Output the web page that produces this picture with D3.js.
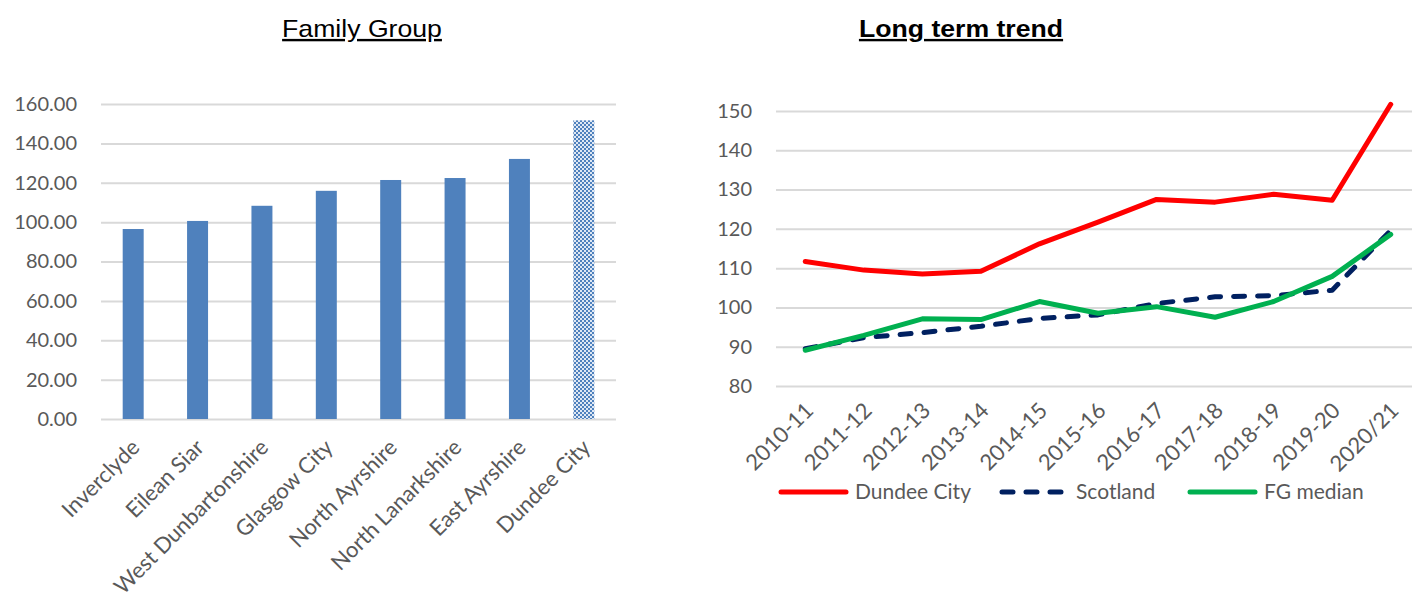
<!DOCTYPE html>
<html>
<head>
<meta charset="utf-8">
<script src="https://cdn.jsdelivr.net/npm/d3@7"></script>
<style>
  html, body { margin: 0; padding: 0; background: #fff; }
  svg { display: block; }
  .tick text { font-family: Lato, "Open Sans", sans-serif; font-size: 20px; fill: #595959; }
  .xaxis .tick text { font-size: 22px; }
  .title { font-family: "Liberation Sans", Arial, sans-serif; font-size: 24px; fill: #000; text-decoration: underline; }
  .legend text { font-family: Lato, "Open Sans", sans-serif; font-size: 21px; fill: #595959; }
</style>
</head>
<body>
<script>
// Family group comparison (2020/21)
const councils = ["Inverclyde", "Eilean Siar", "West Dunbartonshire", "Glasgow City",
                  "North Ayrshire", "North Lanarkshire", "East Ayrshire", "Dundee City"];
const councilValues = [96.5, 100.6, 108.3, 115.9, 121.4, 122.4, 132.1, 151.7];
const highlightCouncil = "Dundee City";
const barTicks = [0, 20, 40, 60, 80, 100, 120, 140, 160];

// Long term trend
const years = ["2010-11", "2011-12", "2012-13", "2013-14", "2014-15", "2015-16",
               "2016-17", "2017-18", "2018-19", "2019-20", "2020/21"];
const dundeeCity = [111.7, 109.5, 108.5, 109.2, 116.2, 121.7, 127.5, 126.8, 128.8, 127.3, 151.7];
const scotland   = [89.5, 92.3, 93.6, 95.2, 97.2, 98.1, 101.0, 102.7, 103.0, 104.4, 119.6];
const fgMedian   = [89.1, 92.9, 97.1, 96.9, 101.5, 98.5, 100.2, 97.5, 101.5, 107.9, 118.6];
const trendTicks = [80, 90, 100, 110, 120, 130, 140, 150];
const seriesNames = ["Dundee City", "Scotland", "FG median"];

const W = 1412, H = 593;
const svg = d3.select("body").append("svg").attr("width", W).attr("height", H);

// checkered fill for the highlighted council
const defs = svg.append("defs");
const pat = defs.append("pattern").attr("id", "checker")
  .attr("patternUnits", "userSpaceOnUse").attr("width", 4).attr("height", 4);
pat.append("rect").attr("width", 4).attr("height", 4).attr("fill", "#dfe8f4");
pat.append("rect").attr("x", 0).attr("y", 0).attr("width", 2).attr("height", 2).attr("fill", "#4f81bd");
pat.append("rect").attr("x", 2).attr("y", 2).attr("width", 2).attr("height", 2).attr("fill", "#4f81bd");

function styleGrid(g) {
  g.select(".domain").remove();
  g.selectAll(".tick line").attr("stroke", "#d9d9d9").attr("stroke-width", 2);
  g.selectAll(".tick text").attr("x", -24);
}

function rotateLabels(g, dx, dy) {
  g.select(".domain").remove();
  g.selectAll(".tick text")
    .attr("text-anchor", "end")
    .attr("transform", `translate(${dx},${dy}) rotate(-45)`)
    .attr("dy", "0.7em").attr("y", 0).attr("x", 0);
}

// ---------- Family Group bar chart ----------
const bx = d3.scaleBand().domain(councils).range([101, 616]).paddingInner(0.674).paddingOuter(0.337);
const by = d3.scaleLinear().domain([0, 160]).range([419, 104]);

svg.append("text").attr("class", "title")
  .attr("transform", "translate(362,37) scale(1.11,1)")
  .attr("text-anchor", "middle").text("Family Group");

svg.append("g").attr("transform", "translate(101,0)")
  .call(d3.axisLeft(by).tickValues(barTicks).tickFormat(d3.format(".2f")).tickSize(-515))
  .call(styleGrid);

svg.append("g").selectAll("rect").data(councils).join("rect")
  .attr("x", d => bx(d))
  .attr("width", bx.bandwidth())
  .attr("y", (d, i) => by(councilValues[i]))
  .attr("height", (d, i) => by(0) - by(councilValues[i]))
  .attr("fill", d => d === highlightCouncil ? "url(#checker)" : "#4f81bd");

svg.append("g").attr("class", "xaxis").attr("transform", "translate(0,419)")
  .call(d3.axisBottom(bx).tickSize(0))
  .call(rotateLabels, -3, 19);

// ---------- Long term trend line chart ----------
const lx = d3.scalePoint().domain(years).range([776, 1420]).padding(0.5);
const ly = d3.scaleLinear().domain([80, 150]).range([386, 111]);

svg.append("text").attr("class", "title")
  .attr("transform", "translate(961,37) scale(1.11,1)")
  .attr("text-anchor", "middle").style("font-weight", "bold").text("Long term trend");

svg.append("g").attr("transform", "translate(776,0)")
  .call(d3.axisLeft(ly).tickValues(trendTicks).tickSize(-644))
  .call(styleGrid);

svg.append("g").attr("class", "xaxis").attr("transform", "translate(0,386)")
  .call(d3.axisBottom(lx).tickSize(0))
  .call(rotateLabels, -2, 15);

const series = [
  { name: seriesNames[0], values: dundeeCity, color: "#ff0000", dash: null },
  { name: seriesNames[1], values: scotland,   color: "#002060", dash: "11,13" },
  { name: seriesNames[2], values: fgMedian,   color: "#00b050", dash: null }
];
const line = d3.line().x((d, i) => lx(years[i])).y(d => ly(d));

// draw Scotland first so the FG median sits on top of it, Dundee last
[series[1], series[2], series[0]].forEach(s => {
  svg.append("path").datum(s.values)
    .attr("d", line)
    .attr("fill", "none")
    .attr("stroke", s.color)
    .attr("stroke-width", 5)
    .attr("stroke-linejoin", "round")
    .attr("stroke-linecap", "round")
    .attr("stroke-dasharray", s.dash);
});

// legend
const legendX = [781, 1002, 1190];
const legend = svg.append("g").attr("class", "legend");
series.forEach((s, i) => {
  const g = legend.append("g").attr("transform", `translate(${legendX[i]},492)`);
  g.append("line").attr("x1", 0).attr("x2", 65).attr("y1", 0).attr("y2", 0)
    .attr("stroke", s.color).attr("stroke-width", 5)
    .attr("stroke-linecap", "round").attr("stroke-dasharray", s.dash);
  g.append("text").attr("x", 74).attr("dy", "0.35em").text(s.name);
});
</script>
</body>
</html>
